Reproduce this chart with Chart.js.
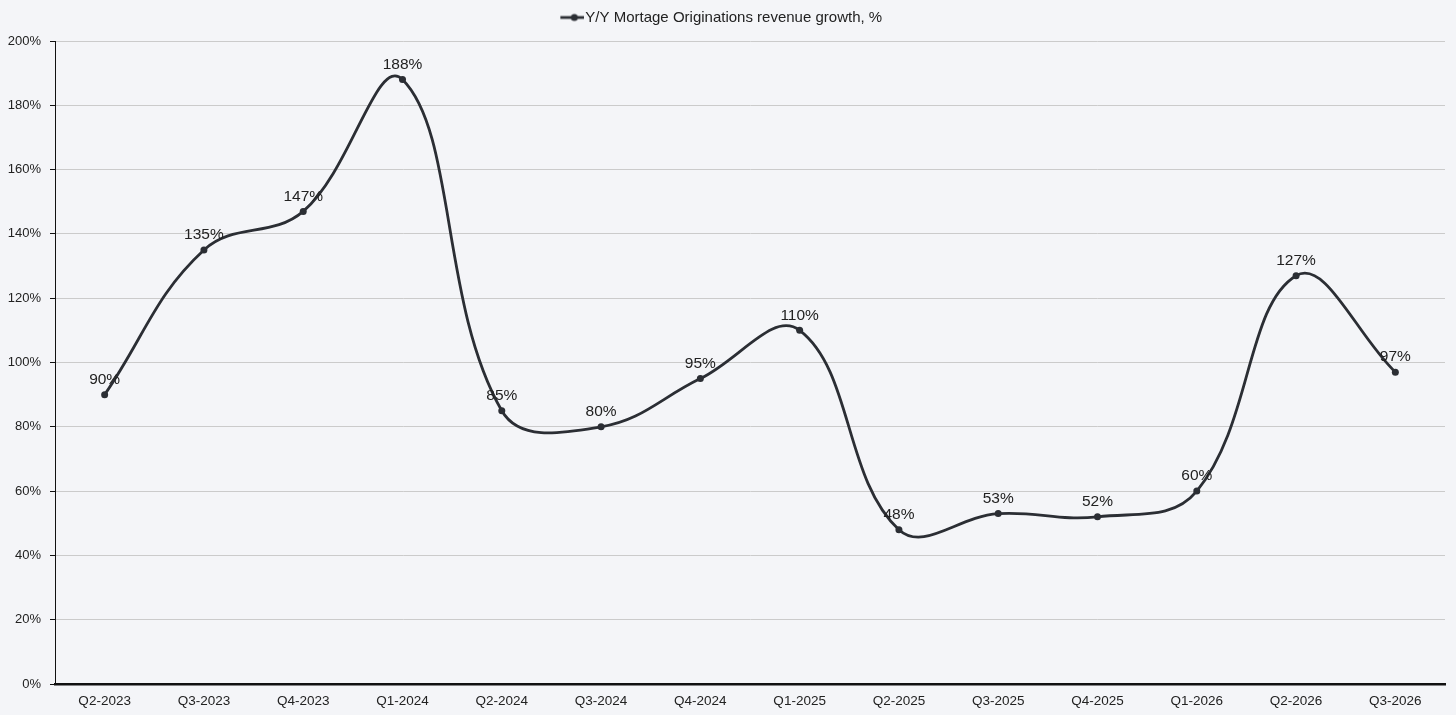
<!DOCTYPE html>
<html><head><meta charset="utf-8">
<script src="https://cdn.jsdelivr.net/npm/chart.js@4.4.1/dist/chart.umd.min.js"></script>
<style>
html,body{margin:0;padding:0;background:#f4f5f8;}
#wrap{width:1456px;height:715px;position:relative;}
</style>
</head><body>
<div id="wrap"><canvas id="c"></canvas></div>
<script>
const categories = ['Q2-2023','Q3-2023','Q4-2023','Q1-2024','Q2-2024','Q3-2024','Q4-2024','Q1-2025','Q2-2025','Q3-2025','Q4-2025','Q1-2026','Q2-2026','Q3-2026'];
const growth = [90,135,147,188,85,80,95,110,48,53,52,60,127,97];
const seriesLabel = 'Y/Y Mortage Originations revenue growth, %';
const yMin = 0, yMax = 200, yStep = 20;

const FONT = '"Helvetica Neue", Helvetica, Arial, "Liberation Sans", sans-serif';
const LINE = '#2b2e34';
const TEXT = '#222222';

// legend marker: line with a dot in the middle
const BOXW = 15;
const marker = document.createElement('canvas');
marker.width = BOXW + 13; marker.height = 10;
(function(){
  const g = marker.getContext('2d');
  g.strokeStyle = LINE; g.lineWidth = 2.8;
  g.beginPath(); g.moveTo(marker.width - 24, 5); g.lineTo(marker.width, 5); g.stroke();
  g.fillStyle = LINE; g.beginPath(); g.arc(marker.width - 10, 5, 3.5, 0, Math.PI*2); g.fill();
})();

const labelPlugin = {
  id: 'pointLabels',
  afterDatasetsDraw(chart) {
    const ctx = chart.ctx;
    const meta = chart.getDatasetMeta(0);
    ctx.save();
    ctx.font = '15.5px ' + FONT;
    ctx.fillStyle = TEXT;
    ctx.textAlign = 'center';
    ctx.textBaseline = 'middle';
    meta.data.forEach((pt, i) => {
      ctx.fillText(growth[i] + '%', pt.x, pt.y - 15);
    });
    ctx.restore();
  }
};

const legendSpace = {
  id: 'legendSpace',
  beforeLayout(chart) {
    const lg = chart.legend;
    if (lg && !lg._spacePatched) {
      const f = lg.fit.bind(lg);
      lg.fit = function() { f(); this.height += 6; };
      lg._spacePatched = true;
    }
  }
};

new Chart(document.getElementById('c'), {
  type: 'line',
  data: {
    labels: categories,
    datasets: [{
      label: seriesLabel,
      data: growth,
      borderColor: LINE,
      backgroundColor: LINE,
      borderWidth: 2.8,
      tension: 0.4,
      pointRadius: 3.5,
      pointHoverRadius: 3.5,
      pointBackgroundColor: LINE,
      pointBorderWidth: 0,
      pointStyle: 'circle'
    }]
  },
  options: {
    responsive: true,
    maintainAspectRatio: false,
    animation: false,
    layout: { padding: { left: 0, right: 11, top: 0, bottom: 0 } },
    plugins: {
      legend: {
        display: true,
        position: 'top',
        labels: {
          usePointStyle: true,
          pointStyle: marker,
          pointStyleWidth: BOXW,
          boxHeight: 10,
          color: TEXT,
          font: { size: 15, family: FONT },
          padding: 10
        }
      },
      tooltip: { enabled: false }
    },
    scales: {
      x: {
        type: 'category',
        offset: true,
        afterFit(scale) { scale.height = 31; },
        grid: { display: false, drawTicks: false },
        border: { display: true, color: '#111111', width: 2.5 },
        ticks: { color: TEXT, font: { size: 13.5, family: FONT }, padding: 9, maxRotation: 0, autoSkip: false }
      },
      y: {
        min: yMin, max: yMax,
        afterFit(scale) { scale.width = 55; },
        grid: { color: '#cbcbcb', lineWidth: 1, tickLength: 5, tickColor: '#111111', drawTicks: true },
        border: { display: true, color: '#111111', width: 1 },
        ticks: {
          stepSize: yStep,
          color: TEXT,
          font: { size: 13, family: FONT },
          padding: 9,
          callback: v => v + '%'
        }
      }
    }
  },
  plugins: [legendSpace, labelPlugin]
});
</script>
</body></html>
